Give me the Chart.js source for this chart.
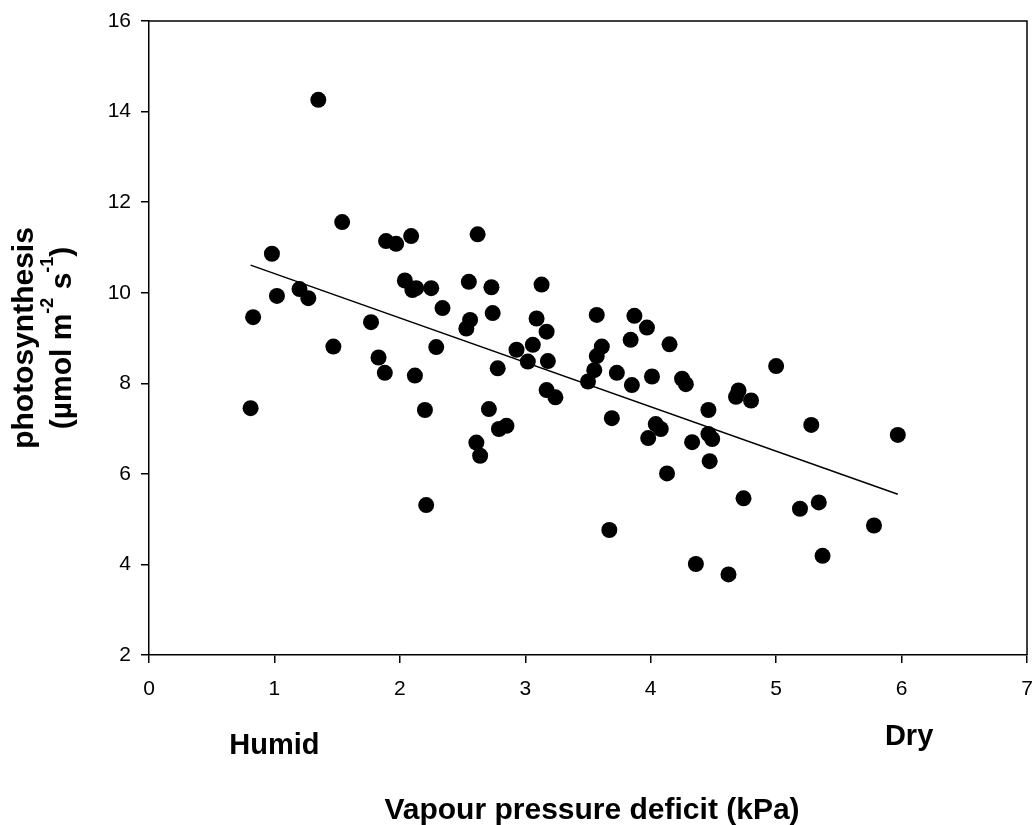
<!doctype html>
<html>
<head>
  <title>Photosynthesis vs VPD</title>
  <script src="https://cdn.jsdelivr.net/npm/chart.js@4.4.1/dist/chart.umd.min.js"></script>
  <style>
    body { margin: 0; background: #fff; }
  </style>
</head>
<body>
<canvas id="canvas" width="1035" height="825"></canvas>
<script>
  // values
  var vpd = [0.81, 0.83, 0.98, 1.02, 1.20, 1.27, 1.35, 1.47, 1.54, 1.77,
             1.83, 1.88, 1.89, 1.97, 2.09, 2.04, 2.10, 2.13, 2.25, 2.34,
             2.29, 2.12, 2.20, 2.21, 2.62, 2.55, 2.73, 2.56, 2.53, 2.74,
             2.78, 2.93, 2.71, 2.79, 2.85, 2.61, 2.64, 3.13, 3.09, 3.17,
             3.06, 3.02, 3.18, 3.17, 3.24, 3.57, 3.61, 3.57, 3.55, 3.50,
             3.73, 3.87, 3.97, 3.84, 4.15, 4.01, 3.85, 3.69, 4.04, 4.08,
             3.98, 4.25, 4.28, 4.13, 4.46, 4.46, 4.49, 4.33, 4.47, 4.70,
             4.68, 4.80, 5.00, 5.28, 5.97, 4.74, 5.19, 5.34, 5.78, 5.37,
             3.67, 4.36, 4.62];
  var photo = [7.45, 9.46, 10.86, 9.93, 10.08, 9.88, 14.26, 8.81, 11.56, 9.35,
               8.57, 8.23, 11.14, 11.08, 11.25, 10.27, 10.06, 10.10, 10.10, 9.66,
               8.80, 8.17, 7.41, 5.31, 11.29, 10.24, 10.12, 9.40, 9.21, 9.55,
               8.33, 8.74, 7.43, 6.99, 7.06, 6.69, 6.40, 10.18, 9.43, 9.14,
               8.85, 8.48, 8.49, 7.85, 7.69, 9.51, 8.81, 8.60, 8.29, 8.04,
               8.23, 9.49, 9.23, 8.96, 8.86, 8.15, 7.96, 7.23, 7.10, 6.99,
               6.79, 8.10, 7.98, 6.01, 7.41, 6.88, 6.77, 6.70, 6.28, 7.84,
               7.70, 7.62, 8.38, 7.08, 6.86, 5.46, 5.23, 5.37, 4.86, 4.19,
               4.76, 4.01, 3.78];
  // regression line end points
  var fitX = [0.81, 5.97];
  var fitY = [10.61, 5.55];
  var xTicks = [0, 1, 2, 3, 4, 5, 6, 7];
  var yTicks = [2, 4, 6, 8, 10, 12, 14, 16];
  // labels under the x axis, at VPD values
  var endLabels = ['Humid', 'Dry'];
  var endLabelAt = [1, 6.06];

  var FONT = '"Liberation Sans", Arial, sans-serif';

  var points = vpd.map(function (v, i) { return {x: v, y: photo[i]}; });
  var fitLine = fitX.map(function (v, i) { return {x: v, y: fitY[i]}; });

  var extras = {
    id: 'extras',
    afterDraw: function (chart) {
      var ctx = chart.ctx;
      var a = chart.chartArea;
      var xs = chart.scales.x;
      ctx.save();
      // box
      ctx.strokeStyle = '#000';
      ctx.lineWidth = 1.5;
      ctx.beginPath();
      ctx.moveTo(a.left, a.top);
      ctx.lineTo(a.right, a.top);
      ctx.lineTo(a.right, a.bottom);
      ctx.stroke();

      ctx.fillStyle = '#000';
      ctx.font = 'bold 29px ' + FONT;
      ctx.textAlign = 'center';
      ctx.textBaseline = 'alphabetic';
      ctx.fillText(endLabels[0], xs.getPixelForValue(endLabelAt[0]), 754);
      ctx.fillText(endLabels[1], xs.getPixelForValue(endLabelAt[1]), 745);

      // x title
      ctx.font = 'bold 30px ' + FONT;
      ctx.fillText('Vapour pressure deficit (kPa)', (a.left + a.right) / 2 + 4, 819);

      // y title with superscripts
      ctx.translate(0, (a.top + a.bottom) / 2);
      ctx.rotate(-Math.PI / 2);
      ctx.fillText('photosynthesis', 0, 33);
      var parts = [['(\u00b5mol m', false], ['-2', true], [' s', false], ['-1', true], [')', false]];
      var big = 'bold 30px ' + FONT, small = 'bold 18px ' + FONT;
      var w = 0;
      parts.forEach(function (p) { ctx.font = p[1] ? small : big; w += ctx.measureText(p[0]).width; });
      var x = -w / 2;
      ctx.textAlign = 'left';
      parts.forEach(function (p) {
        ctx.font = p[1] ? small : big;
        ctx.fillText(p[0], x, p[1] ? 53 : 71);
        x += ctx.measureText(p[0]).width;
      });
      ctx.restore();
    }
  };

  window.onload = function () {
    var ctx = document.getElementById('canvas').getContext('2d');
    window.myChart = new Chart(ctx, {
      type: 'scatter',
      data: {
        datasets: [{
          label: 'photosynthesis',
          data: points,
          backgroundColor: '#000',
          borderWidth: 0,
          pointRadius: 8,
          pointHoverRadius: 8
        }, {
          type: 'line',
          label: 'fit',
          data: fitLine,
          borderColor: '#000',
          borderWidth: 1.5,
          pointRadius: 0,
          fill: false
        }]
      },
      options: {
        responsive: false,
        animation: false,
        events: [],
        layout: {padding: {top: 21, right: 6, left: 0, bottom: 0}},
        plugins: {
          legend: {display: false},
          tooltip: {enabled: false}
        },
        scales: {
          x: {
            type: 'linear',
            min: 0,
            max: 7,
            afterFit: function (s) { s.height = 170; s.paddingRight = 0; s.paddingLeft = 0; },
            afterBuildTicks: function (s) { s.ticks = xTicks.map(function (v) { return {value: v}; }); },
            ticks: {color: '#000', font: {family: FONT, size: 21}, padding: 14, maxRotation: 0},
            grid: {drawOnChartArea: false, drawTicks: true, tickLength: 8, color: '#000', lineWidth: 1.5},
            border: {color: '#000', width: 1.5}
          },
          y: {
            min: 2,
            max: 16,
            afterFit: function (s) { s.width = 149; s.paddingTop = 0; s.paddingBottom = 0; },
            afterBuildTicks: function (s) { s.ticks = yTicks.map(function (v) { return {value: v}; }); },
            ticks: {color: '#000', font: {family: FONT, size: 21}, padding: 10},
            grid: {drawOnChartArea: false, drawTicks: true, tickLength: 8, color: '#000', lineWidth: 1.5},
            border: {color: '#000', width: 1.5}
          }
        }
      },
      plugins: [extras]
    });
  };
</script>
</body>
</html>
